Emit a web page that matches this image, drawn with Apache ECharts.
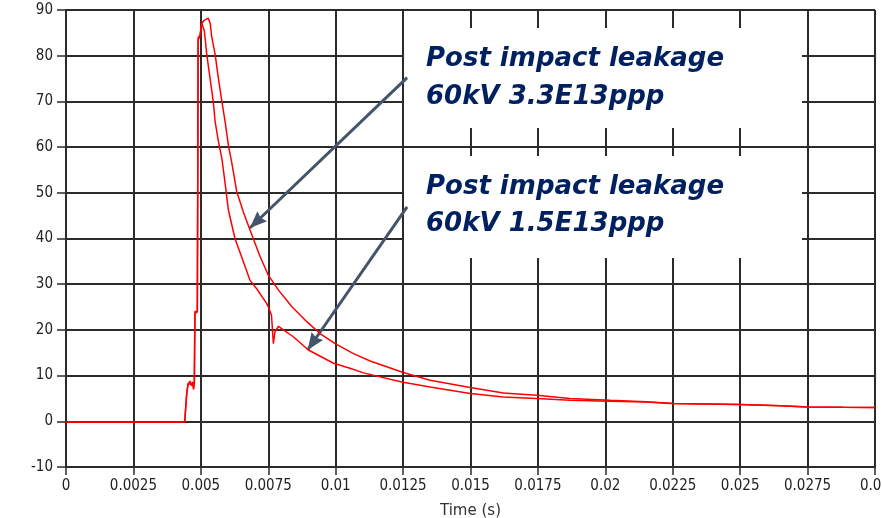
<!DOCTYPE html>
<html>
<head>
<meta charset="utf-8">
<script src="https://cdn.jsdelivr.net/npm/echarts@6/dist/echarts.min.js"></script>
<style>
  html, body { margin: 0; padding: 0; background: #ffffff; }
  #chart { width: 882px; height: 518px; }
</style>
</head>
<body>
<div id="chart"></div>
<script>
// Tick labels on the time axis (seconds)
const xTickLabels = ['0', '0.0025', '0.005', '0.0075', '0.01', '0.0125', '0.015',
  '0.0175', '0.02', '0.0225', '0.025', '0.0275', '0.03'];
const xStep = 0.0025;

// Leakage trace, 60kV 3.3E13ppp
const timeHigh = [0, 0.0044, 0.00445, 0.00448, 0.00453, 0.0046, 0.00466, 0.0047, 0.00473,
  0.00476, 0.00478, 0.00487, 0.00489, 0.0049, 0.00497, 0.00503, 0.0051, 0.0052, 0.00528,
  0.00535, 0.0054, 0.00553, 0.00565, 0.00578, 0.0059, 0.00602, 0.00615, 0.00633, 0.00659,
  0.00682, 0.0072, 0.0075, 0.00788, 0.00837, 0.00893, 0.00942, 0.00998, 0.01066, 0.01128,
  0.01245, 0.0135, 0.01499, 0.01622, 0.01746, 0.01869, 0.02018, 0.0215, 0.0225, 0.025,
  0.0265, 0.0275, 0.0288, 0.03];
const leakHigh = [-0.2, -0.2, 0.2, 6.2, 8.2, 8.8, 7.8, 8.4, 7.2,
  8.8, 23.5, 24, 61, 83.5, 84.2, 87.0, 87.6, 88.0, 88.2,
  87.0, 84.3, 80.3, 75.1, 70.0, 65.6, 60.5, 56.5, 50.3, 45.6,
  41.9, 36.0, 32.0, 28.7, 25.1, 21.8, 19.2, 17.0, 14.8, 13.2,
  10.8, 9.0, 7.4, 6.2, 5.7, 5.0, 4.6, 4.3, 3.9, 3.7,
  3.4, 3.15, 3.05, 3.0];

// Leakage trace, 60kV 1.5E13ppp
const timeLow = [0, 0.0044, 0.00445, 0.00448, 0.00453, 0.0046, 0.00466, 0.0047, 0.00473,
  0.00476, 0.00478, 0.00487, 0.00489, 0.0049, 0.00497, 0.00503, 0.00508, 0.00513, 0.00522,
  0.00534, 0.00546, 0.00553, 0.00565, 0.00578, 0.0059, 0.00602, 0.00627, 0.00645, 0.00682,
  0.00707, 0.00744, 0.0075, 0.00756, 0.00762, 0.00769, 0.00775, 0.00788, 0.00806, 0.00843,
  0.00899, 0.00992, 0.01053, 0.01103, 0.01245, 0.0135, 0.01499, 0.01622, 0.01746, 0.01869,
  0.02018, 0.0215, 0.0225, 0.025, 0.0265, 0.0275, 0.0288, 0.03];
const leakLow = [-0.2, -0.2, 0, 6.4, 8.3, 8.5, 8.0, 8.6, 7.0,
  8.5, 24, 24, 62, 84, 84.5, 87.2, 87.5, 85.4, 80.3,
  75.1, 70.0, 65.6, 61.3, 57.5, 52.1, 46.3, 39.9, 37.0, 30.9,
  29.0, 25.8, 25.1, 24.8, 23.2, 17.0, 19.6, 20.8, 20.0, 18.5,
  15.6, 12.7, 11.6, 10.6, 8.6, 7.5, 6.1, 5.3, 5.0, 4.6,
  4.4, 4.2, 3.9, 3.65, 3.4, 3.15, 3.05, 3.0];

// Callout text and the arrows pointing from each callout to its trace
const calloutHigh = 'Post impact leakage\n60kV 3.3E13ppp';
const calloutLow = 'Post impact leakage\n60kV 1.5E13ppp';
const arrowHighFrom = [0.01265, 75.2];
const arrowHighTo = [0.00682, 42.3];
const arrowLowFrom = [0.01265, 46.9];
const arrowLowTo = [0.00896, 15.6];

const pairs = (xs, ys) => xs.map((x, i) => [x, ys[i]]);

const gridColor = '#2b2b2b';
const tickFont = '"DejaVu Sans Condensed", "Liberation Sans Narrow", "DejaVu Sans", sans-serif';
const calloutFont = 'italic bold 26px "DejaVu Sans", Verdana, sans-serif';
const calloutColor = '#00205f';
const arrowColor = '#44546a';
// Solid arrowhead with a shallow notch, pointing up; the empty upper half
// puts the tip at the symbol centre so it lands on the end coordinate.
const arrowHead = 'path://M5,0L5.01,0L5,0.01Z M5,16L10,32L5,30L0,32Z';

const chart = echarts.init(document.getElementById('chart'), null, { renderer: 'canvas' });

chart.setOption({
  animation: false,
  backgroundColor: '#ffffff',
  grid: { left: 66, right: 7, top: 10, bottom: 51, outerBoundsMode: 'none' },
  xAxis: {
    type: 'value',
    min: 0,
    max: 0.03,
    interval: xStep,
    name: 'Time (s)',
    nameLocation: 'middle',
    nameGap: 37,
    nameTextStyle: { fontFamily: '"DejaVu Sans", sans-serif', fontSize: 15, color: '#333' },
    axisLine: { onZero: false, lineStyle: { color: gridColor, width: 2 } },
    axisTick: { show: true, length: 8, lineStyle: { color: gridColor, width: 1.5 } },
    axisLabel: {
      margin: 12,
      fontFamily: tickFont,
      fontSize: 15,
      color: '#222',
      formatter: v => xTickLabels[Math.round(v / xStep)] ?? ''
    },
    splitLine: { show: true, lineStyle: { color: gridColor, width: 2 } }
  },
  yAxis: {
    type: 'value',
    min: -10,
    max: 90,
    interval: 10,
    axisLine: { show: true, lineStyle: { color: gridColor, width: 2 } },
    axisTick: { show: true, length: 9, lineStyle: { color: gridColor, width: 1.5 } },
    axisLabel: { margin: 13, fontFamily: tickFont, fontSize: 15, color: '#222' },
    splitLine: { show: true, lineStyle: { color: gridColor, width: 2 } }
  },
  graphic: [
    { type: 'rect', z: 5, shape: { x: 404, y: 28, width: 398, height: 100 }, style: { fill: '#ffffff' } },
    { type: 'rect', z: 5, shape: { x: 404, y: 156, width: 398, height: 102 }, style: { fill: '#ffffff' } },
    { type: 'text', z: 6, x: 426, y: 40,
      style: { text: calloutHigh, font: calloutFont, fill: calloutColor, lineHeight: 38, verticalAlign: 'top' } },
    { type: 'text', z: 6, x: 426, y: 169,
      style: { text: calloutLow, font: calloutFont, fill: calloutColor, lineHeight: 37, verticalAlign: 'top' } }
  ],
  series: [
    {
      name: '60kV 3.3E13ppp',
      type: 'line',
      data: pairs(timeHigh, leakHigh),
      showSymbol: false,
      z: 10,
      lineStyle: { color: '#ff0000', width: 1.5 },
      emphasis: { disabled: true }
    },
    {
      name: '60kV 1.5E13ppp',
      type: 'line',
      data: pairs(timeLow, leakLow),
      showSymbol: false,
      z: 10,
      lineStyle: { color: '#ff0000', width: 1.5 },
      emphasis: { disabled: true },
      markLine: {
        silent: true,
        symbol: ['none', arrowHead],
        symbolSize: [14, 34],
        label: { show: false },
        lineStyle: { color: arrowColor, width: 3, type: 'solid' },
        itemStyle: { color: arrowColor },
        emphasis: { disabled: true },
        data: [
          [{ coord: arrowHighFrom }, { coord: arrowHighTo }],
          [{ coord: arrowLowFrom }, { coord: arrowLowTo }]
        ]
      }
    }
  ]
});
</script>
</body>
</html>
